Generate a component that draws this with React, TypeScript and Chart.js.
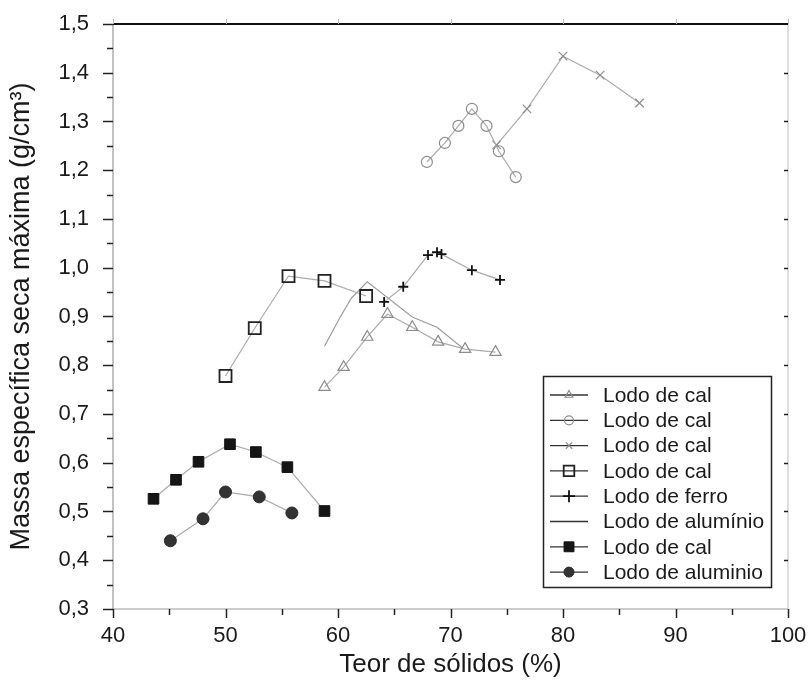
import React, { useEffect, useRef } from 'react';
import { Chart, registerables } from 'chart.js';

Chart.register(...registerables);

// ---- data ----
const legendLabels = [
  'Lodo de cal',
  'Lodo de cal',
  'Lodo de cal',
  'Lodo de cal',
  'Lodo de ferro',
  'Lodo de alumínio',
  'Lodo de cal',
  'Lodo de aluminio',
];

const triX = [58.8, 60.5, 62.6, 64.4, 66.6, 68.9, 71.3, 74.0];
const triY = [0.755, 0.796, 0.858, 0.905, 0.878, 0.848, 0.833, 0.827];

const circX = [67.9, 69.5, 70.7, 71.9, 73.2, 74.3, 75.8];
const circY = [1.217, 1.256, 1.291, 1.326, 1.291, 1.239, 1.186];

const crossX = [74.1, 76.8, 80.0, 83.3, 86.8];
const crossY = [1.252, 1.326, 1.434, 1.395, 1.338];

const sqX = [50.0, 52.6, 55.6, 58.8, 62.5];
const sqY = [0.778, 0.876, 0.983, 0.973, 0.942];

const ferroX = [64.1, 65.8, 68.0, 68.8, 69.2, 71.9, 74.4];
const ferroY = [0.93, 0.961, 1.026, 1.032, 1.028, 0.995, 0.975];

const aluX = [58.8, 60.2, 61.2, 62.6, 66.6, 68.8, 71.1];
const aluY = [0.839, 0.899, 0.938, 0.971, 0.899, 0.878, 0.835];

const blkSqX = [43.6, 45.6, 47.6, 50.4, 52.7, 55.5, 58.8];
const blkSqY = [0.526, 0.565, 0.602, 0.638, 0.622, 0.591, 0.501];

const blkCircX = [45.1, 48.0, 50.0, 53.0, 55.9];
const blkCircY = [0.44, 0.485, 0.54, 0.53, 0.497];

const xTickLabels = ['40', '50', '60', '70', '80', '90', '100'];
const yTickLabels = ['0,3', '0,4', '0,5', '0,6', '0,7', '0,8', '0,9', '1,0', '1,1', '1,2', '1,3', '1,4', '1,5'];

const xTitle = 'Teor de sólidos (%)';
const yTitle = 'Massa específica seca máxima (g/cm³)';

const FONT = '"Liberation Sans", Arial, sans-serif';
const LINE_GRAY = '#ababab';

const pts = (xs: number[], ys: number[]) => xs.map((x, i) => ({ x, y: ys[i] }));

type Sty = {
  pointStyle: any;
  radius: number;
  border: string;
  fill: string;
  bw: number;
  lr: number;
};

const styles: Sty[] = [
  { pointStyle: 'triangle', radius: 6.5, border: '#8c8c8c', fill: 'rgba(0,0,0,0)', bw: 1.2, lr: 4.5 },
  { pointStyle: 'circle', radius: 5.5, border: '#8c8c8c', fill: 'rgba(0,0,0,0)', bw: 1.2, lr: 4.5 },
  { pointStyle: 'crossRot', radius: 6, border: '#8c8c8c', fill: 'rgba(0,0,0,0)', bw: 1.2, lr: 4.5 },
  { pointStyle: 'rect', radius: 8.5, border: '#222', fill: 'rgba(0,0,0,0)', bw: 1.8, lr: 7.5 },
  { pointStyle: 'cross', radius: 5, border: '#111', fill: 'rgba(0,0,0,0)', bw: 1.8, lr: 6 },
  { pointStyle: false, radius: 0, border: '#111', fill: 'rgba(0,0,0,0)', bw: 1, lr: 0 },
  { pointStyle: 'rect', radius: 7.5, border: '#111', fill: '#151515', bw: 1, lr: 7 },
  { pointStyle: 'circle', radius: 6, border: '#2a2a2a', fill: '#333', bw: 1, lr: 5 },
];

const seriesData = [
  pts(triX, triY),
  pts(circX, circY),
  pts(crossX, crossY),
  pts(sqX, sqY),
  pts(ferroX, ferroY),
  pts(aluX, aluY),
  pts(blkSqX, blkSqY),
  pts(blkCircX, blkCircY),
];

function drawMarker(ctx: CanvasRenderingContext2D, st: Sty, x: number, y: number, r: number) {
  if (!st.pointStyle || r <= 0) return;
  ctx.save();
  ctx.strokeStyle = st.border;
  ctx.fillStyle = st.fill;
  ctx.lineWidth = st.bw;
  ctx.beginPath();
  switch (st.pointStyle) {
    case 'triangle': {
      const a = -Math.PI / 2;
      for (let k = 0; k < 3; k++) {
        const ang = a + (k * 2 * Math.PI) / 3;
        const px = x + Math.cos(ang) * r;
        const py = y + Math.sin(ang) * r;
        if (k === 0) ctx.moveTo(px, py);
        else ctx.lineTo(px, py);
      }
      ctx.closePath();
      ctx.fill();
      ctx.stroke();
      break;
    }
    case 'circle':
      ctx.arc(x, y, r, 0, Math.PI * 2);
      ctx.fill();
      ctx.stroke();
      break;
    case 'crossRot': {
      const d = r * Math.SQRT1_2;
      ctx.moveTo(x - d, y - d);
      ctx.lineTo(x + d, y + d);
      ctx.moveTo(x - d, y + d);
      ctx.lineTo(x + d, y - d);
      ctx.stroke();
      break;
    }
    case 'cross':
      ctx.moveTo(x - r, y);
      ctx.lineTo(x + r, y);
      ctx.moveTo(x, y - r);
      ctx.lineTo(x, y + r);
      ctx.stroke();
      break;
    case 'rect': {
      const s = r * Math.SQRT1_2;
      ctx.rect(x - s, y - s, 2 * s, 2 * s);
      ctx.fill();
      ctx.stroke();
      break;
    }
  }
  ctx.restore();
}

const framePlugin = {
  id: 'frame',
  beforeDatasetsDraw(chart: any) {
    const { ctx, chartArea } = chart;
    const { left, right, top, bottom } = chartArea;
    const xs = chart.scales.x;
    const ys = chart.scales.y;
    ctx.save();
    ctx.strokeStyle = '#9a9a9a';
    ctx.lineWidth = 1.2;
    ctx.beginPath();
    ctx.moveTo(left, top);
    ctx.lineTo(left, bottom);
    ctx.lineTo(right, bottom);
    ctx.stroke();
    ctx.strokeStyle = '#c8c8c8';
    ctx.beginPath();
    ctx.moveTo(right, top);
    ctx.lineTo(right, bottom);
    ctx.stroke();
    ctx.strokeStyle = '#111';
    ctx.lineWidth = 2;
    ctx.beginPath();
    ctx.moveTo(left, top);
    ctx.lineTo(right, top);
    ctx.stroke();
    ctx.strokeStyle = '#222';
    ctx.lineWidth = 1.5;
    for (let i = 0; i <= 24; i++) {
      const v = 0.3 + i * 0.05;
      const py = Math.round(ys.getPixelForValue(v)) + 0.5;
      const major = i % 2 === 0;
      ctx.beginPath();
      ctx.moveTo(left, py);
      ctx.lineTo(left - (major ? 10 : 6), py);
      ctx.stroke();
      if (major && i > 0 && i < 24) {
        ctx.beginPath();
        ctx.moveTo(right, py);
        ctx.lineTo(right - 4, py);
        ctx.stroke();
      }
    }
    for (let i = 0; i <= 12; i++) {
      const v = 40 + i * 5;
      const px = Math.round(xs.getPixelForValue(v)) + 0.5;
      const major = i % 2 === 0;
      ctx.beginPath();
      ctx.moveTo(px, bottom);
      ctx.lineTo(px, bottom + (major ? 9 : 6));
      ctx.stroke();
    }
    ctx.strokeStyle = '#bbb';
    ctx.lineWidth = 1;
    for (let i = 0; i <= 6; i++) {
      const px = Math.round(xs.getPixelForValue(40 + i * 10)) + 0.5;
      ctx.beginPath();
      ctx.moveTo(px, top);
      ctx.lineTo(px, top - 5);
      ctx.stroke();
    }
    ctx.restore();
  },
  afterDraw(chart: any) {
    const ctx: CanvasRenderingContext2D = chart.ctx;
    ctx.save();
    ctx.strokeStyle = '#222';
    ctx.lineWidth = 1.5;
    ctx.strokeRect(543.5, 376.5, 228, 211);
    ctx.font = `21px ${FONT}`;
    ctx.textBaseline = 'middle';
    ctx.textAlign = 'left';
    legendLabels.forEach((lab, i) => {
      const cy = 395 + i * 25.3;
      ctx.strokeStyle = '#333';
      ctx.lineWidth = 1.3;
      ctx.beginPath();
      ctx.moveTo(550, cy);
      ctx.lineTo(588, cy);
      ctx.stroke();
      drawMarker(ctx, styles[i], 569, cy, styles[i].lr);
      ctx.fillStyle = '#1a1a1a';
      ctx.fillText(lab, 603, cy + 1);
    });
    ctx.restore();
  },
};

export default function App() {
  const ref = useRef<HTMLCanvasElement | null>(null);
  useEffect(() => {
    document.body.style.margin = '0';
    const canvas = ref.current;
    if (!canvas) return;
    const datasets = seriesData.map((data, i) => {
      const st = styles[i];
      return {
        label: legendLabels[i],
        data,
        showLine: true,
        borderColor: i === 5 ? '#9c9c9c' : LINE_GRAY,
        borderWidth: 1.2,
        backgroundColor: st.fill,
        pointStyle: st.pointStyle,
        pointRadius: st.radius,
        pointBorderColor: st.border,
        pointBackgroundColor: st.fill,
        pointBorderWidth: st.bw,
        tension: 0,
        fill: false,
      };
    });
    const chart = new Chart(canvas, {
      type: 'line',
      data: { datasets } as any,
      options: {
        animation: false,
        responsive: false,
        layout: { padding: { top: 24, right: 22, left: 0, bottom: 0 } },
        plugins: {
          legend: { display: false },
          tooltip: { enabled: false },
        },
        scales: {
          x: {
            type: 'linear',
            min: 40,
            max: 100,
            grid: { display: false, drawTicks: false },
            border: { display: false },
            ticks: {
              stepSize: 10,
              padding: 14,
              color: '#1a1a1a',
              font: { family: FONT, size: 22 },
              maxRotation: 0,
              callback: (v: any) => {
                const idx = Math.round((Number(v) - 40) / 10);
                return xTickLabels[idx] ?? '';
              },
            },
            title: {
              display: true,
              text: xTitle,
              color: '#1a1a1a',
              font: { family: FONT, size: 26 },
              padding: { top: 0, bottom: 8 },
            },
            afterFit: (scale: any) => {
              scale.height = 79;
              scale.paddingLeft = 0;
              scale.paddingRight = 0;
            },
          },
          y: {
            type: 'linear',
            min: 0.3,
            max: 1.5,
            grid: { display: false, drawTicks: false },
            border: { display: false },
            ticks: {
              stepSize: 0.1,
              padding: 24,
              color: '#1a1a1a',
              font: { family: FONT, size: 22 },
              callback: (v: any) => {
                const idx = Math.round((Number(v) - 0.3) * 10);
                return yTickLabels[idx] ?? '';
              },
            },
            title: {
              display: true,
              text: yTitle,
              color: '#1a1a1a',
              font: { family: FONT, size: 27 },
              padding: { top: 5, bottom: 0 },
            },
            afterFit: (scale: any) => {
              scale.width = 113;
              scale.paddingTop = 0;
              scale.paddingBottom = 0;
            },
          },
        },
      } as any,
      plugins: [framePlugin],
    });
    return () => chart.destroy();
  }, []);
  return (
    <div style={{ width: 810, height: 688 }}>
      <canvas ref={ref} width={810} height={688} style={{ display: 'block' }} />
    </div>
  );
}
